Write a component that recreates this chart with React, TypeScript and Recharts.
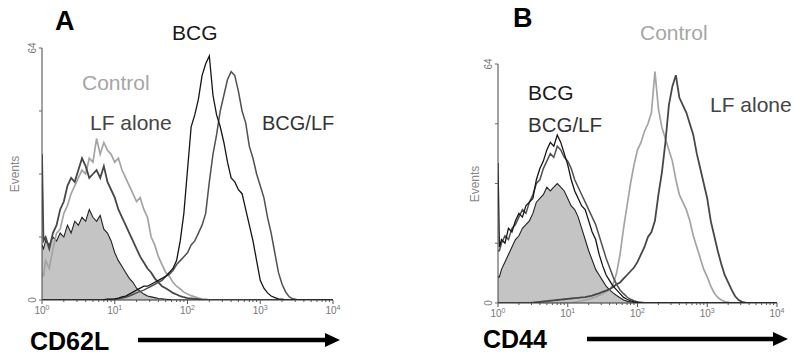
import React from 'react';
import { ComposedChart, Area, Line, XAxis, YAxis } from 'recharts';

// channel positions in decades (10^0 .. 10^4); first-channel bin kept separate
const BINS = [0, 0.02,
  0.05, 0.1, 0.15, 0.2, 0.25, 0.3, 0.35, 0.4, 0.45, 0.5,
  0.55, 0.6, 0.65, 0.7, 0.75, 0.8, 0.85, 0.9, 0.95, 1.0,
  1.05, 1.1, 1.15, 1.2, 1.25, 1.3, 1.35, 1.4, 1.45, 1.5,
  1.55, 1.6, 1.65, 1.7, 1.75, 1.8, 1.85, 1.9, 1.95, 2.0,
  2.05, 2.1, 2.15, 2.2, 2.25, 2.3, 2.35, 2.4, 2.45, 2.5,
  2.55, 2.6, 2.65, 2.7, 2.75, 2.8, 2.85, 2.9, 2.95, 3.0,
  3.05, 3.1, 3.15, 3.2, 3.25, 3.3, 3.35, 3.4, 3.45, 3.5,
  3.55, 3.6, 3.65, 3.7, 3.75, 3.8, 3.85, 3.9, 3.95, 4.0];

const MAJOR_TICKS = [0, 1, 2, 3, 4];
const MINOR_TICKS = [0.3, 0.48, 0.6, 0.7, 0.78, 0.85, 0.9, 0.95,
  1.3, 1.48, 1.6, 1.7, 1.78, 1.85, 1.9, 1.95,
  2.3, 2.48, 2.6, 2.7, 2.78, 2.85, 2.9, 2.95,
  3.3, 3.48, 3.6, 3.7, 3.78, 3.85, 3.9, 3.95];
const Y_TICKS = [0, 16, 32, 48, 64];

const Z10 = [0, 0, 0, 0, 0, 0, 0, 0, 0, 0];

// Panel A - CD62L
const A_ISO = [14, 13,
  15, 14, 16, 15, 17, 16, 19, 17, 20, 19,
  21, 20, 23, 21, 20, 21.5, 18, 17, 15, 12,
  10, 8.5, 7, 5.5, 4.5, 3, 2.2, 1.5, 1, 0.8,
  0.6, 0.4, 0.3, 0.2, 0.1, 0, 0, 0, 0, 0,
  ...Z10, ...Z10, ...Z10, ...Z10];
const A_CONTROL = [7, 6,
  10, 8, 13, 17, 18, 22, 24, 27, 29, 31,
  33, 32, 36, 35, 41, 37, 40, 38, 37, 35,
  36, 33, 31, 29, 27, 25, 26, 23, 21, 16,
  14, 11, 9, 7, 6, 4.5, 3.5, 2.8, 2, 1.5,
  1.1, 0.8, 0.5, 0.3, 0.2, 0, 0, 0, 0, 0,
  ...Z10, ...Z10, ...Z10];
const A_LF = [37, 15,
  16, 13, 17, 19, 23, 25, 29, 31, 30, 33,
  36, 34, 31, 32, 33, 31, 34, 30, 28, 26,
  23, 21, 19, 17, 15, 13, 11, 9.5, 8, 7,
  5.5, 4.5, 3.5, 3, 2.4, 1.8, 1.4, 1, 0.7, 0.5,
  0.4, 0.3, 0.2, 0, 0, 0, 0, 0, 0, 0,
  ...Z10, ...Z10, ...Z10];
const A_BCG = [0, 0,
  ...Z10,
  0, 0, 0, 0, 0, 0, 0.1, 0.2, 0.2, 0.3,
  0.5, 0.8, 1, 1.5, 2, 2.5, 3, 3.5, 3.5, 4,
  4.5, 5, 5.5, 6, 7, 8, 10, 15, 22, 33,
  44, 47, 51, 57, 60, 62, 52, 47, 44, 40,
  35, 31, 30, 28, 27, 23, 19, 15, 10, 5,
  3, 1.8, 1, 0.6, 0.3, 0.2, 0, 0, 0, 0,
  ...Z10];
const A_BCGLF = [0, 0,
  ...Z10,
  0, 0, 0, 0, 0, 0, 0, 0.1, 0.1, 0.2,
  0.3, 0.5, 0.7, 1, 1.4, 1.8, 2.2, 2.5, 3, 3.5,
  4, 4.5, 5, 6, 6.5, 7.5, 9, 10, 11, 12,
  14, 15, 17, 19, 22, 30, 37, 42, 48, 52,
  56, 58, 57, 53, 48, 45, 39, 36, 32, 29,
  26, 21, 17, 12, 7, 4, 2, 0.8, 0.3, 0.1,
  ...Z10];

// Panel B - CD44
const B_ISO = [7, 7,
  9, 11, 13, 15, 17, 18, 20, 21, 22, 24,
  27, 28, 29, 31, 30, 31, 32, 31, 30, 28,
  26, 25, 23, 20, 17, 14, 11.5, 9, 7.5, 6,
  4.5, 3.5, 2.7, 2, 1.4, 0.8, 0.5, 0.3, 0.2, 0.1,
  ...Z10, ...Z10, ...Z10, ...Z10];
const B_BCG = [37.5, 15,
  17, 16, 20, 19, 22, 24, 23, 26, 27, 28,
  33, 36, 38, 41, 43, 42, 45, 43, 40, 37,
  33, 30, 28, 26, 25, 22, 19, 17, 13, 10,
  7.5, 6, 4.5, 3.5, 2.5, 1.5, 1, 0.6, 0.3, 0.2,
  ...Z10, ...Z10, ...Z10, ...Z10];
const B_BCGLF = [14, 14,
  16, 18, 17, 20, 21, 23, 25, 24, 27, 29,
  32, 33, 36, 38, 40, 39, 42, 41, 39, 38,
  36, 33, 31, 29, 27, 25, 23, 21, 18, 15,
  12, 9.5, 7, 5, 3.5, 2.5, 1.6, 1, 0.6, 0.3,
  0.2, 0.1, 0, 0, 0, 0, 0, 0, 0, 0,
  ...Z10, ...Z10, ...Z10];
const B_CONTROL = [0, 0,
  ...Z10,
  ...Z10,
  0, 0.2, 0.4, 0.6, 0.8, 1, 1.3, 1.6, 2, 2.5,
  3, 3.5, 5, 8, 13, 20, 26, 32, 37, 41,
  43, 46, 48, 51, 62, 52, 47, 44, 41, 38,
  33, 29, 27, 25, 22, 18, 15, 12, 9, 7,
  4.5, 2.7, 1.5, 0.8, 0.4, 0.2, 0, 0, 0, 0,
  ...Z10];
const B_LF = [0, 0,
  0, 0, 0, 0, 0, 0, 0, 0, 0, 0.1,
  0.2, 0.3, 0.4, 0.5, 0.6, 0.7, 0.8, 0.9, 1, 1.1,
  1.2, 1.3, 1.4, 1.5, 1.6, 1.8, 2, 2.3, 2.6, 3,
  3.3, 3.7, 4.3, 5, 5.5, 6.5, 7.5, 8.5, 9.5, 11,
  13, 15, 17.7, 19, 22, 29, 35, 43, 53, 58,
  61, 55, 53, 51, 48, 45, 40, 36, 32, 28,
  22, 18, 14, 10.5, 7.5, 5.5, 3.5, 1.8, 0.8, 0.3,
  0.1, 0, 0, 0, 0, 0, 0, 0, 0, 0];

const FONT = '"Liberation Sans", Arial, Helvetica, sans-serif';

const rows = (iso: number[], control: number[], lf: number[], bcg: number[], bcglf: number[]) =>
  BINS.map((d, i) => ({ d, iso: iso[i], control: control[i], lf: lf[i], bcg: bcg[i], bcglf: bcglf[i] }));

const dataA = rows(A_ISO, A_CONTROL, A_LF, A_BCG, A_BCGLF);
const dataB = rows(B_ISO, B_CONTROL, B_LF, B_BCG, B_BCGLF);

const XTick = (props: any) => {
  const { x, y, payload } = props;
  const v = payload.value;
  const major = MAJOR_TICKS.includes(v);
  return (
    <g>
      <line x1={x} x2={x} y1={y} y2={y + (major ? 4 : 2)} stroke="#555" strokeWidth={1} />
      {major && (
        <text x={x} y={y + 14} textAnchor="middle" fontSize={10} fill="#777" fontFamily={FONT}>
          10<tspan dy={-4} fontSize={7}>{v}</tspan>
        </text>
      )}
    </g>
  );
};

const YTick = (props: any) => {
  const { x, y, payload } = props;
  const v = payload.value;
  return (
    <g>
      <line x1={x - 3} x2={x} y1={y} y2={y} stroke="#666" strokeWidth={1} />
      {(v === 0 || v === 64) && (
        <text x={x - 6} y={y} transform={`rotate(-90, ${x - 6}, ${y})`} textAnchor="middle"
          fontSize={10} fill="#777" fontFamily={FONT}>{v}</text>
      )}
    </g>
  );
};

type PanelProps = {
  data: any[];
  margin: { top: number; right: number; bottom: number; left: number };
};

const Histogram = ({ data, margin }: PanelProps) => (
  <ComposedChart width={400} height={359} data={data} margin={margin}>
    <XAxis dataKey="d" type="number" domain={[0, 4]} ticks={[...MAJOR_TICKS, ...MINOR_TICKS]}
      interval={0} tick={<XTick />} tickLine={false} tickSize={0} tickMargin={0} height={20}
      axisLine={{ stroke: '#333', strokeWidth: 1.2 }} allowDataOverflow />
    <YAxis type="number" domain={[0, 64]} ticks={Y_TICKS} interval={0} tick={<YTick />}
      tickLine={false} tickSize={0} tickMargin={0} width={30}
      axisLine={{ stroke: '#444', strokeWidth: 1 }} allowDataOverflow />
    <Area type="linear" dataKey="iso" fill="#c4c4c4" fillOpacity={1} stroke="#222" strokeWidth={1.1}
      isAnimationActive={false} dot={false} activeDot={false} />
    <Line type="linear" dataKey="control" stroke="#a4a4a4" strokeWidth={1.7}
      isAnimationActive={false} dot={false} activeDot={false} />
    <Line type="linear" dataKey="lf" stroke="#474747" strokeWidth={1.8}
      isAnimationActive={false} dot={false} activeDot={false} />
    <Line type="linear" dataKey="bcglf" stroke="#505050" strokeWidth={1.5}
      isAnimationActive={false} dot={false} activeDot={false} />
    <Line type="linear" dataKey="bcg" stroke="#151515" strokeWidth={1.3}
      isAnimationActive={false} dot={false} activeDot={false} />
  </ComposedChart>
);

const Label = ({ x, y, text, color, size = 21, bold = false }: any) => (
  <text x={x} y={y} fill={color} fontSize={size} fontWeight={bold ? 'bold' : 'normal'} fontFamily={FONT}>{text}</text>
);

const Arrow = ({ x1, x2, y }: { x1: number; x2: number; y: number }) => (
  <g>
    <line x1={x1} x2={x2 - 12} y1={y} y2={y} stroke="#000" strokeWidth={4.5} />
    <polygon points={`${x2 - 15},${y - 7} ${x2},${y} ${x2 - 15},${y + 7}`} fill="#000" />
  </g>
);

export default function App() {
  return (
    <div style={{ position: 'absolute', left: 0, top: 0, width: 800, height: 359, background: '#fff', overflow: 'hidden' }}>
      <div style={{ position: 'absolute', left: 0, top: 0 }}>
        <Histogram data={dataA} margin={{ top: 48, right: 67, bottom: 39, left: 12 }} />
      </div>
      <div style={{ position: 'absolute', left: 400, top: 0 }}>
        <Histogram data={dataB} margin={{ top: 64, right: 23, bottom: 36, left: 68 }} />
      </div>
      <svg width={800} height={359} style={{ position: 'absolute', left: 0, top: 0, pointerEvents: 'none' }}>
        <Label x={55} y={30} text="A" color="#000" size={27} bold />
        <Label x={172} y={40} text="BCG" color="#1a1a1a" />
        <Label x={82} y={90} text="Control" color="#a6a6a6" />
        <Label x={90} y={130} text="LF alone" color="#444" />
        <Label x={262} y={130} text="BCG/LF" color="#333" size={20} />
        <text x={19} y={174} transform="rotate(-90, 19, 174)" textAnchor="middle" fontSize={12} fill="#888" fontFamily={FONT}>Events</text>
        <Label x={30} y={350} text="CD62L" color="#000" size={25} bold />
        <Arrow x1={138} x2={340} y={340} />

        <Label x={513} y={27} text="B" color="#000" size={27} bold />
        <Label x={640} y={40} text="Control" color="#a6a6a6" />
        <Label x={528} y={100} text="BCG" color="#1a1a1a" />
        <Label x={528} y={132} text="BCG/LF" color="#333" size={20.5} />
        <Label x={710} y={112} text="LF alone" color="#444" />
        <text x={479} y={184} transform="rotate(-90, 479, 184)" textAnchor="middle" fontSize={12} fill="#888" fontFamily={FONT}>Events</text>
        <Label x={483} y={348} text="CD44" color="#000" size={25} bold />
        <Arrow x1={587} x2={788} y={339} />
      </svg>
    </div>
  );
}
